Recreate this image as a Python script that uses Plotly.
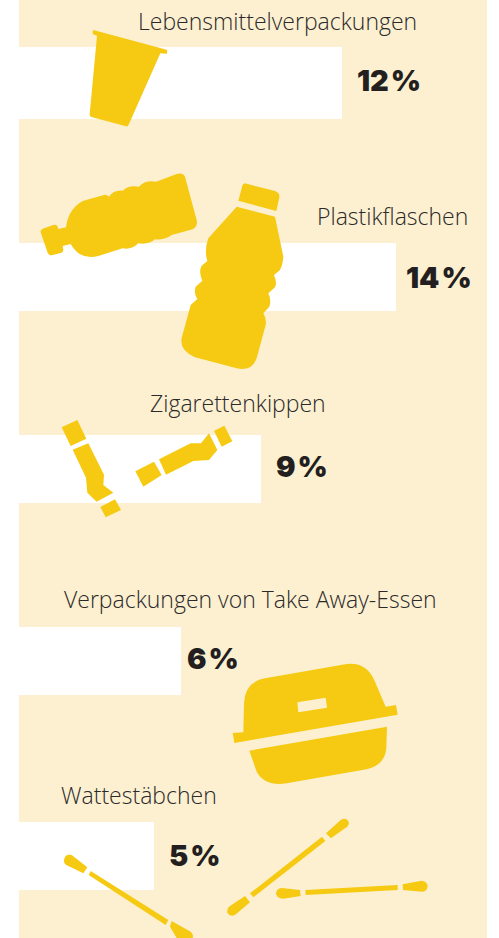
import re
import plotly.graph_objects as go

# data
categories = ["Lebensmittelverpackungen", "Plastikflaschen", "Zigarettenkippen",
              "Verpackungen von Take Away-Essen", "Wattestäbchen"]
values = [12, 14, 9, 6, 5]

# layout
W, H = 499, 938
PANEL_L, PANEL_R = 19, 487
PX_PER_PCT = 26.92
bar_y = [83, 276.7, 468.7, 660.8, 855.7]
bar_h = [71.5, 68, 68, 68, 68]
label_x = [277, 392, 237.5, 251, 139]
label_y = [21, 216, 403, 599, 795]
value_shift = [13, 8, 13, 4, 13]
value_y = [80, 277, 466, 658, 855]
CREAM, YELLOW, INK = "#FCF0D1", "#F6CA12", "#2B2929"
LABEL_FONT = dict(family="Open Sans", size=23, color=INK, weight=300)
VALUE_FONT = dict(family="Inter", size=29, color="#231F20", weight=900)

NUM = re.compile(r"(-?[\d.]+) (-?[\d.]+)")


def P(d, oy=0):
    """Zoomed (3x) crop coordinates to paper coordinates."""
    def sub(m):
        x = float(m.group(1)) / 3
        y = float(m.group(2)) / 3 + oy
        return f"{x / W:.5f} {1 - y / H:.5f}"
    return NUM.sub(sub, d)


icons = [
    # cup
    ("M280 90 L500 149 Q503 152 501 161 L481 160 L387 372 Q384 381 378 379 L274 351 Q268 349 269 343 L291 107 L279 103 Q275 97 280 90 Z", 0, YELLOW),
    # lying bottle
    ("M128 686 L160 675 Q170 673 173 680 L175 687 L198 682 Q205 625 250 602 L315 584 Q322 584 327 590 Q340 570 368 572 Q385 555 417 560 Q435 540 468 545 L530 522 Q548 516 555 530 L590 660 Q594 680 578 688 L515 705 Q495 720 465 718 Q445 735 415 730 Q395 750 368 745 L295 768 Q240 782 212 732 L188 738 L190 750 Q190 757 182 759 L155 766 Q147 767 143 758 L122 697 Q120 690 128 686 Z", 0, YELLOW),
    # standing bottle
    ("M735 550 L825 573 Q840 578 838 592 L829 633 L715 602 L725 565 Q727 548 740 550 Z", 0, YELLOW),
    ("M710 620 L825 650 L850 770 Q848 795 840 810 L822 825 Q832 850 825 862 L805 880 Q815 900 808 920 L790 940 Q800 955 797 975 L770 1075 Q755 1115 710 1105 L585 1072 Q535 1050 546 1010 L572 915 L592 897 Q580 880 587 860 L607 842 Q595 815 605 797 L622 783 Q612 750 625 715 Z", 0, YELLOW),
    # cigarettes
    ("M185 142 L232 120 L259 176 L212 198 Z", 380, YELLOW),
    ("M218 209 L265 190 L312 284 L310 315 L340 338 L290 365 L262 338 L258 293 Z", 380, YELLOW),
    ("M301 381 L345 358 L363 390 L317 412 Z", 380, YELLOW),
    ("M406 274 L462 245 L485 285 L430 320 Z", 380, YELLOW),
    ("M477 238 L572 190 L603 190 L627 160 L652 210 L627 240 L580 243 L498 284 Z", 380, YELLOW),
    ("M642 152 L673 137 L697 184 L665 200 Z", 380, YELLOW),
    # clamshell
    ("M730 277 L732 190 Q735 125 795 115 L1040 72 Q1100 65 1125 125 L1157 200 L1188 195 L1193 224 L703 309 L698 279 Z", 640, YELLOW),
    ("M892 187 L977 173 L981 203 L895 217 Z", 640, CREAM),
    ("M748 332 L1161 260 L1159 325 Q1155 375 1100 388 L860 430 Q795 440 770 395 Z", 640, YELLOW),
    # swabs
    ("M192 660 Q195 640 215 645 L262 682 L250 700 L205 678 Q190 672 192 660 Z", 640, YELLOW),
    ("M272 693 L505 840 L497 855 L266 705 Z", 640, YELLOW),
    ("M515 843 L572 875 Q582 885 578 894 L530 894 L510 860 Z", 640, YELLOW),
    ("M978 580 L1022 540 Q1040 530 1047 548 Q1045 560 1035 565 L993 595 Z", 640, YELLOW),
    ("M966 590 L976 603 L760 772 L750 760 Z", 640, YELLOW),
    ("M735 768 L750 787 L705 825 Q690 832 682 818 Q680 805 690 798 Z", 640, YELLOW),
    ("M845 744 L900 750 L902 768 L850 776 Q828 775 828 760 Q830 745 845 744 Z", 640, YELLOW),
    ("M916 750 L1193 735 L1193 750 L917 765 Z", 640, YELLOW),
    ("M1208 733 L1265 722 Q1283 725 1283 740 Q1280 755 1265 755 L1209 750 Z", 640, YELLOW),
]

fig = go.Figure(go.Bar(
    x=values, y=bar_y, width=bar_h, orientation="h",
    marker=dict(color="#FFFFFF", line_width=0),
    hoverinfo="skip",
))

shapes = [dict(type="path", path=P(d, oy), xref="paper", yref="paper",
               fillcolor=c, line_width=0, layer="above") for d, oy, c in icons]

annotations = []
for name, lx, ly in zip(categories, label_x, label_y):
    annotations.append(dict(text=name, x=lx / W, y=1 - ly / H, xref="paper", yref="paper",
                            xanchor="center", yanchor="middle", showarrow=False, font=LABEL_FONT))
for v, yv, sh in zip(values, value_y, value_shift):
    annotations.append(dict(text=f"{v}\u200a%", x=v, y=yv, xref="x", yref="y", xshift=sh,
                            xanchor="left", yanchor="middle", showarrow=False, font=VALUE_FONT))

fig.update_layout(
    width=W, height=H, autosize=False,
    margin=dict(l=0, r=0, t=0, b=0, pad=0),
    paper_bgcolor="#FFFFFF", plot_bgcolor=CREAM,
    showlegend=False, bargap=0,
    xaxis=dict(domain=[PANEL_L / W, PANEL_R / W], range=[0, (PANEL_R - PANEL_L) / PX_PER_PCT],
               visible=False, fixedrange=True),
    yaxis=dict(range=[H, 0], visible=False, fixedrange=True),
    shapes=shapes, annotations=annotations,
)

fig.write_html("out.html", config={"displayModeBar": False},
               post_script="document.body.style.margin='0';")
